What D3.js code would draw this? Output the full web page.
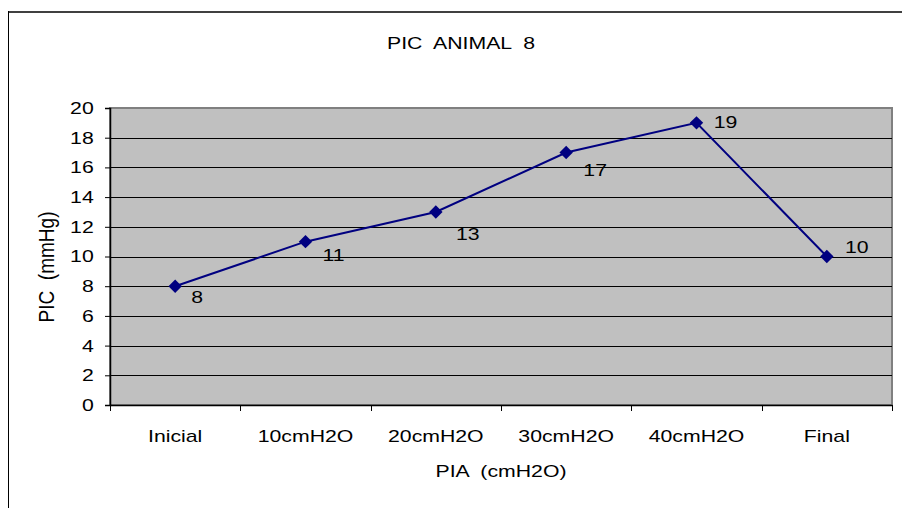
<!DOCTYPE html>
<html>
<head>
<meta charset="utf-8">
<script src="https://cdn.jsdelivr.net/npm/d3@7"></script>
<style>
  body { margin: 0; background: #fff; }
  text { font-family: "Liberation Sans", Arial, sans-serif; fill: #000; white-space: pre; }
</style>
</head>
<body>
<script>
// data
const categories = ['Inicial', '10cmH2O', '20cmH2O', '30cmH2O', '40cmH2O', 'Final'];
const values = [8, 11, 13, 17, 19, 10];
const yTicks = [0, 2, 4, 6, 8, 10, 12, 14, 16, 18, 20];
// where Excel dropped each value label, relative to its point
const labelOffsets = [[22, 11], [28, 13], [32, 22], [29, 17], [29, -1], [30, -9]];

const width = 902, height = 508;
const margin = { left: 110, right: 10, top: 108, bottom: 103 };
const fs = '17px';
const sx = 1.25; // the reference text is stretched sideways

const svg = d3.select('body').append('svg')
    .attr('width', width)
    .attr('height', height);

// outer chart frame
svg.append('line').attr('x1', 8).attr('x2', width).attr('y1', 12).attr('y2', 12)
  .attr('stroke', '#404040').attr('stroke-width', 2);
svg.append('line').attr('x1', 8.5).attr('x2', 8.5).attr('y1', 11).attr('y2', height)
  .attr('stroke', '#000').attr('stroke-width', 1);

const x = d3.scaleBand()
    .domain(categories)
    .range([margin.left, width - margin.right]);
const y = d3.scaleLinear()
    .domain([0, 20])
    .range([height - margin.bottom, margin.top]);

const g = svg.append('g');

// plot background
g.append('rect')
  .attr('x', x.range()[0]).attr('y', y(20))
  .attr('width', x.range()[1] - x.range()[0]).attr('height', y(0) - y(20))
  .attr('fill', '#c0c0c0')
  .attr('stroke', '#808080').attr('stroke-width', 2);

// gridlines
g.selectAll('.grid').data(yTicks.filter(d => d > 0 && d < 20)).enter()
  .append('line')
  .attr('x1', x.range()[0]).attr('x2', x.range()[1])
  .attr('y1', d => Math.round(y(d)) + 0.5).attr('y2', d => Math.round(y(d)) + 0.5)
  .attr('stroke', '#000').attr('stroke-width', 1);

// y axis
const yAxis = g.append('g')
  .attr('transform', `translate(${x.range()[0]},0)`)
  .call(d3.axisLeft(y).tickValues(yTicks).tickSize(5).tickPadding(6));
yAxis.select('.domain').attr('stroke', '#000').attr('stroke-width', 1.5);
yAxis.selectAll('text')
  .attr('x', -13)
  .attr('transform', `scale(${sx},1)`)
  .style('font-size', fs);

// x axis
const xAxis = g.append('g')
  .attr('transform', `translate(0,${y(0)})`)
  .call(d3.axisBottom(x).tickSize(0).tickPadding(25));
xAxis.select('.domain').attr('stroke', '#000').attr('stroke-width', 1.5);
xAxis.selectAll('text')
  .attr('transform', `scale(${sx},1)`)
  .style('font-size', fs);
// ticks sit between categories
g.selectAll('.xtick').data(categories.concat([null])).enter()
  .append('line')
  .attr('x1', (d, i) => Math.round(x.range()[0] + i * x.step()) + 0.5)
  .attr('x2', (d, i) => Math.round(x.range()[0] + i * x.step()) + 0.5)
  .attr('y1', y(0)).attr('y2', y(0) + 6)
  .attr('stroke', '#000');

// line
const line = d3.line()
  .x((d, i) => x(categories[i]) + x.bandwidth() / 2)
  .y(d => y(d));
g.append('path')
  .datum(values)
  .attr('d', line)
  .attr('fill', 'none')
  .attr('stroke', '#000080')
  .attr('stroke-width', 2);

// diamond markers
g.selectAll('.pt').data(values).enter()
  .append('path')
  .attr('d', d3.symbol(d3.symbolSquare, 90))
  .attr('transform', (d, i) => `translate(${x(categories[i]) + x.bandwidth() / 2},${y(d)}) rotate(45)`)
  .attr('fill', '#000080');

// value labels
g.selectAll('.lbl').data(values).enter()
  .append('text')
  .attr('transform', (d, i) => `translate(${x(categories[i]) + x.bandwidth() / 2 + labelOffsets[i][0]},${y(d) + labelOffsets[i][1]}) scale(${sx},1)`)
  .attr('dy', '0.35em')
  .attr('text-anchor', 'middle')
  .style('font-size', fs)
  .text(d => d);

// titles
svg.append('text')
  .attr('transform', `translate(461,43) scale(${sx},1)`)
  .attr('dy', '0.35em')
  .attr('text-anchor', 'middle')
  .style('font-size', fs)
  .text('PIC  ANIMAL  8');
svg.append('text')
  .attr('transform', `translate(501,471) scale(${sx},1)`)
  .attr('dy', '0.35em')
  .attr('text-anchor', 'middle')
  .style('font-size', fs)
  .text('PIA  (cmH2O)');
svg.append('text')
  .attr('transform', 'translate(47,267) rotate(-90) scale(1.12,1.25)')
  .attr('dy', '0.35em')
  .attr('text-anchor', 'middle')
  .style('font-size', fs)
  .text('PIC  (mmHg)');
</script>
</body>
</html>
